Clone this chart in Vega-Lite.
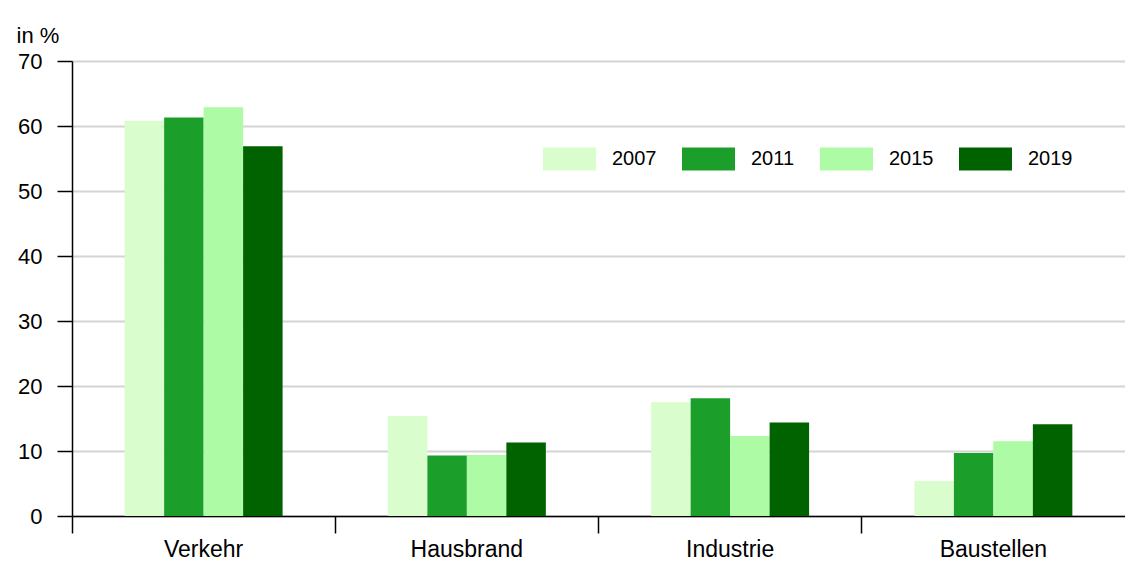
{
  "$schema": "https://vega.github.io/schema/vega-lite/v6.json",
  "width": 1053,
  "height": 455,
  "autosize": {"type": "none"},
  "padding": {"left": 72, "top": 61, "right": 0, "bottom": 47},
  "background": "white",
  "config": {
    "font": "Liberation Sans",
    "view": {"stroke": null}
  },
  "data": {
    "values": [
      {"Bereich": "Verkehr", "Jahr": "2007", "Anteil": 60.8},
      {"Bereich": "Verkehr", "Jahr": "2011", "Anteil": 61.3},
      {"Bereich": "Verkehr", "Jahr": "2015", "Anteil": 62.9},
      {"Bereich": "Verkehr", "Jahr": "2019", "Anteil": 56.9},
      {"Bereich": "Hausbrand", "Jahr": "2007", "Anteil": 15.4},
      {"Bereich": "Hausbrand", "Jahr": "2011", "Anteil": 9.3},
      {"Bereich": "Hausbrand", "Jahr": "2015", "Anteil": 9.4},
      {"Bereich": "Hausbrand", "Jahr": "2019", "Anteil": 11.3},
      {"Bereich": "Industrie", "Jahr": "2007", "Anteil": 17.5},
      {"Bereich": "Industrie", "Jahr": "2011", "Anteil": 18.1},
      {"Bereich": "Industrie", "Jahr": "2015", "Anteil": 12.3},
      {"Bereich": "Industrie", "Jahr": "2019", "Anteil": 14.4},
      {"Bereich": "Baustellen", "Jahr": "2007", "Anteil": 5.4},
      {"Bereich": "Baustellen", "Jahr": "2011", "Anteil": 9.7},
      {"Bereich": "Baustellen", "Jahr": "2015", "Anteil": 11.5},
      {"Bereich": "Baustellen", "Jahr": "2019", "Anteil": 14.1}
    ]
  },
  "mark": {"type": "bar"},
  "encoding": {
    "x": {
      "field": "Bereich",
      "type": "nominal",
      "sort": ["Verkehr", "Hausbrand", "Industrie", "Baustellen"],
      "scale": {"paddingInner": 0.4, "paddingOuter": 0.2},
      "axis": {
        "title": null,
        "labelAngle": 0,
        "labelFontSize": 23,
        "labelColor": "#000000",
        "labelPadding": 5,
        "bandPosition": -0.33333,
        "tickSize": 17,
        "tickColor": "#000000",
        "tickWidth": 1.5,
        "domainColor": "#000000",
        "domainWidth": 1.5,
        "grid": false
      }
    },
    "xOffset": {
      "field": "Jahr",
      "type": "nominal",
      "scale": {"paddingInner": 0, "paddingOuter": 0}
    },
    "y": {
      "field": "Anteil",
      "type": "quantitative",
      "scale": {"domain": [0, 70]},
      "axis": {
        "title": "in %",
        "titleAngle": 0,
        "titleAlign": "left",
        "titleBaseline": "alphabetic",
        "titleX": -56,
        "titleY": -19,
        "titleFontSize": 22,
        "titleFontWeight": "normal",
        "titleColor": "#000000",
        "values": [0, 10, 20, 30, 40, 50, 60, 70],
        "labelFontSize": 22,
        "labelColor": "#000000",
        "labelPadding": 15,
        "tickSize": 15,
        "tickColor": "#000000",
        "tickWidth": 1.5,
        "domainColor": "#000000",
        "domainWidth": 1.5,
        "gridColor": "#d4d4d4",
        "gridWidth": 2
      }
    },
    "color": {
      "field": "Jahr",
      "type": "nominal",
      "scale": {
        "domain": ["2007", "2011", "2015", "2019"],
        "range": ["#dafdcd", "#1c9e2b", "#adfba4", "#006300"]
      },
      "legend": {
        "title": null,
        "orient": "none",
        "direction": "horizontal",
        "legendX": 471,
        "legendY": 71,
        "symbolType": "M-1,-0.434H1V0.434H-1Z",
        "symbolSize": 2809,
        "symbolStrokeWidth": 0,
        "symbolOpacity": 1,
        "labelFontSize": 20,
        "labelColor": "#000000",
        "labelOffset": 16,
        "columnPadding": 25
      }
    }
  }
}
